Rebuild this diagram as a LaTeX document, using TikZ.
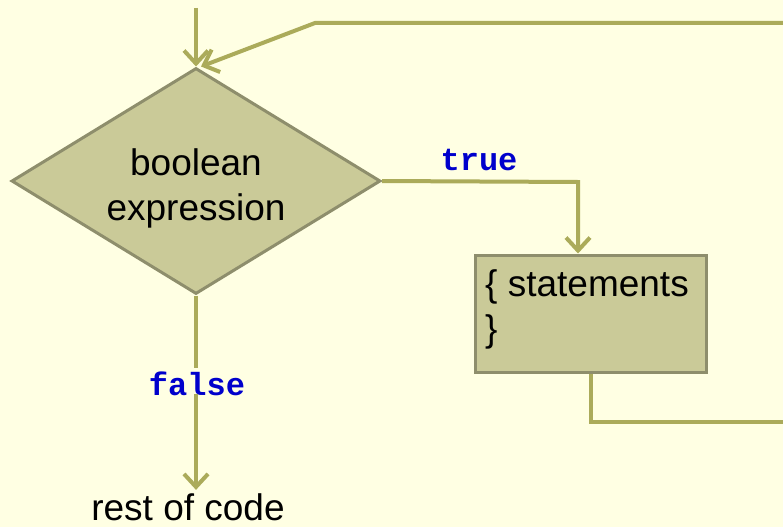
\documentclass[tikz,border=0pt]{standalone}
\usepackage{fontspec}
\setmainfont{Liberation Sans}
\setmonofont{Liberation Mono}
\usetikzlibrary{shapes.geometric,arrows.meta,positioning}

\definecolor{bg}{HTML}{FFFFE3}
\definecolor{shade}{HTML}{CACA98}
\definecolor{rim}{HTML}{8E8E6C}
\definecolor{wire}{HTML}{ABAB5A}
\definecolor{kw}{HTML}{0000CC}

\begin{document}
\begin{tikzpicture}[x=1pt,y=-1pt,
  line/.style={draw=wire,line width=4pt},
  flow/.style={line,-{Straight Barb[length=13pt,width=24pt,line width=4pt]}},
  test/.style={diamond,draw=rim,fill=shade,line width=3pt,inner sep=0pt,
    minimum width=369pt,minimum height=226pt,aspect=1.63,
    font=\fontsize{37}{45}\selectfont},
  stmtbox/.style={rectangle,draw=rim,fill=shade,line width=3pt,
    minimum width=231pt,minimum height=117pt},
  word/.style={font=\fontsize{37}{45}\selectfont,align=left},
  keyword/.style={text=kw,font=\fontsize{32}{36}\selectfont\ttfamily\bfseries}]
\useasboundingbox[fill=bg] (0,0) rectangle (783,527);

\node[test] (cond) at (196,181)
  {\raisebox{-8pt}[\height][\depth]{\begin{tabular}{@{}c@{}}boolean\\expression\end{tabular}}};
\node[stmtbox] (stmt) at (590.5,313.5) {};
\node[word,anchor=north west,inner sep=0pt] (stmttext) at (485,269) {\{ statements\\\}};
\node[keyword] (truelbl) at (479,160) {true};
\node[keyword] (falselbl) at (197,384) {false};
\node[word] (rest) at (188,507) {rest of code};

\coordinate (enter) at (196,8);
\coordinate (back) at (783,23);
\coordinate (kink) at (315,23);
\coordinate (bend) at (578,182);
\coordinate (exit) at (783,422);

\draw[flow] (enter) -- (cond.north);
\draw[flow] (back) -- (kink) -- ([xshift=5pt]cond.north);
\draw[flow] (cond.east) -- (bend) -- (bend |- stmt.north);
\draw[line] (cond.south) -- (cond.south |- falselbl.north);
\draw[flow] ([yshift=6pt]cond.south |- falselbl.south) -- (cond.south |- rest.north);
\draw[line] (stmt.south) |- (exit);
\end{tikzpicture}
\end{document}
